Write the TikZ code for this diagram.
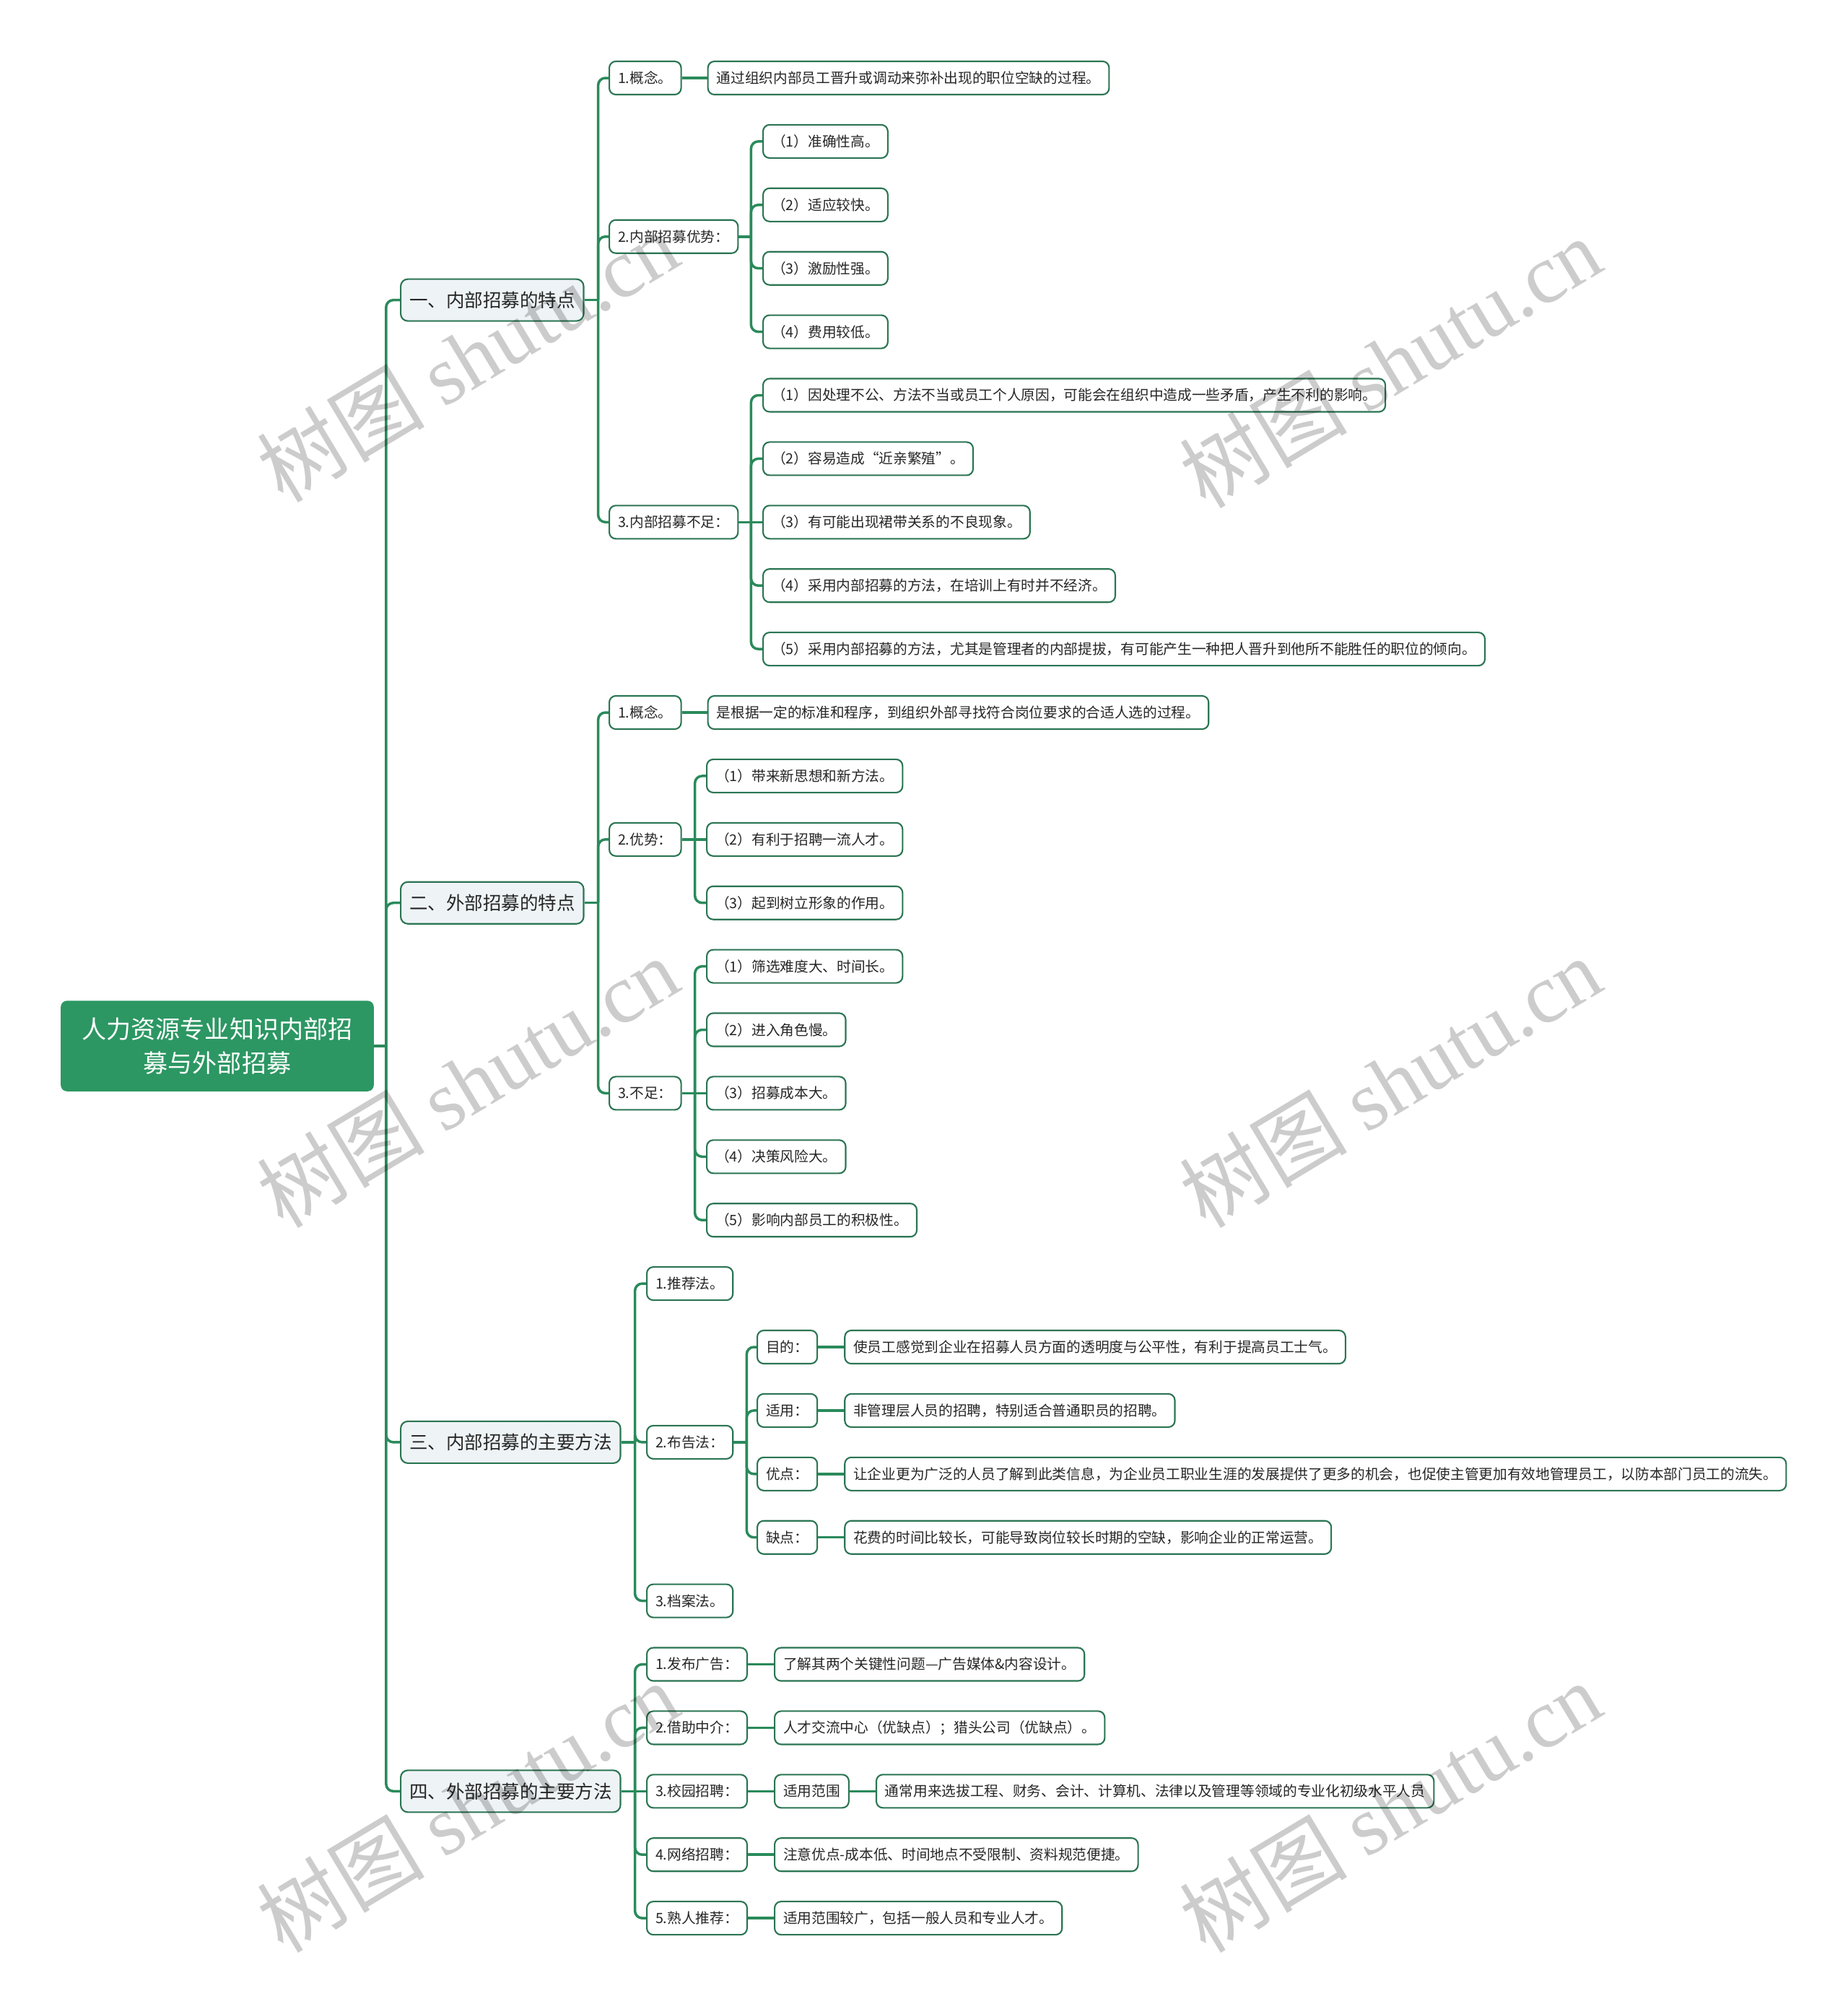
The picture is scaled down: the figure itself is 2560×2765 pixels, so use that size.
\documentclass[tikz,border=0pt]{standalone}
\usepackage{fontspec}
\setmainfont{Noto Sans CJK SC}
\newfontfamily\wmserif{Liberation Serif}
\usetikzlibrary{positioning,calc}
\definecolor{ink}{HTML}{262626}
\definecolor{rootgreen}{HTML}{2C9763}
\definecolor{linegreen}{HTML}{2A8A5B}
\definecolor{edgegreen}{HTML}{2B7553}
\definecolor{topicfill}{HTML}{EEF3F6}
\tikzset{
  rootbox/.style={fill=rootgreen, draw=rootgreen, rounded corners=0.08cm, text=white, align=center, minimum width=4.32cm, minimum height=1.24cm, font=\fontsize{9.7pt}{13.1pt}\selectfont},
  topicbox/.style={draw=edgegreen, fill=topicfill, line width=0.6pt, rounded corners=0.1cm, text=ink, anchor=west, inner xsep=0.12cm, inner ysep=0pt, minimum height=0.58cm, font=\fontsize{7.25pt}{8pt}\selectfont},
  itembox/.style={draw=edgegreen, fill=white, line width=0.6pt, rounded corners=0.09cm, text=ink, anchor=west, inner xsep=0.12cm, inner ysep=0pt, minimum height=0.46cm, font=\fontsize{5.6pt}{6.5pt}\selectfont},
  link/.style={draw=linegreen, line width=1pt},
  branch/.style={link, rounded corners=0.1cm},
  wmark/.style={text=black, text opacity=0.2, rotate=31, font=\fontsize{33pt}{33pt}\selectfont},
}

\begin{document}
\begin{tikzpicture}[x=0.01cm, y=-0.01cm, declare function={row(\k)=108+87.9*\k;}]
\useasboundingbox (0,0) rectangle (2560,2765);
\node[rootbox] (root) at (301,1449) {人力资源专业知识内部招\\募与外部招募};
\node[topicbox] (t1) at (554,{row(3.5)}) {一、内部招募的特点};
\node[topicbox] (t2) at (554,{row(13)}) {二、外部招募的特点};
\node[topicbox] (t3) at (554,{row(21.5)}) {三、内部招募的主要方法};
\node[topicbox] (t4) at (554,{row(27)}) {四、外部招募的主要方法};
\coordinate (jroot) at ([xshift=0.17cm]root.east);
\draw[link] (root.east) -- (jroot);
\foreach \n in {t1,t2,t3,t4} \draw[branch] (jroot) |- (\n.west);

% internal features
\node[itembox] (a1) at (843,{row(0)}) {1.概念。};
\node[itembox, right=0.35cm of a1] (a1t) {通过组织内部员工晋升或调动来弥补出现的职位空缺的过程。};
\node[itembox] (a2) at (843,{row(2.5)}) {2.内部招募优势：};
\node[itembox] (a3) at (843,{row(7)}) {3.内部招募不足：};
\node[itembox] (a21) at (1056,{row(1)}) {（1）准确性高。};
\node[itembox] (a22) at (1056,{row(2)}) {（2）适应较快。};
\node[itembox] (a23) at (1056,{row(3)}) {（3）激励性强。};
\node[itembox] (a24) at (1056,{row(4)}) {（4）费用较低。};
\node[itembox] (a31) at (1056,{row(5)}) {（1）因处理不公、方法不当或员工个人原因，可能会在组织中造成一些矛盾，产生不利的影响。};
\node[itembox] (a32) at (1056,{row(6)}) {（2）容易造成“近亲繁殖”。};
\node[itembox] (a33) at (1056,{row(7)}) {（3）有可能出现裙带关系的不良现象。};
\node[itembox] (a34) at (1056,{row(8)}) {（4）采用内部招募的方法，在培训上有时并不经济。};
\node[itembox] (a35) at (1056,{row(9)}) {（5）采用内部招募的方法，尤其是管理者的内部提拔，有可能产生一种把人晋升到他所不能胜任的职位的倾向。};
\coordinate (jt1) at ([xshift=0.19cm]t1.east);
\coordinate (ja2) at ([xshift=0.17cm]a2.east);
\coordinate (ja3) at ([xshift=0.17cm]a3.east);
\draw[link] (t1.east) -- (jt1); \draw[link] (a2.east) -- (ja2); \draw[link] (a3.east) -- (ja3);
\foreach \n in {a1,a2,a3} \draw[branch] (jt1) |- (\n.west);
\foreach \n in {a21,a22,a23,a24} \draw[branch] (ja2) |- (\n.west);
\foreach \n in {a31,a32,a34,a35} \draw[branch] (ja3) |- (\n.west);
\draw[link] (ja3) -- (a33.west); \draw[link] (a1) -- (a1t);

% external features
\node[itembox] (b1) at (843,{row(10)}) {1.概念。};
\node[itembox, right=0.35cm of b1] (b1t) {是根据一定的标准和程序，到组织外部寻找符合岗位要求的合适人选的过程。};
\node[itembox] (b2) at (843,{row(12)}) {2.优势：};
\node[itembox] (b3) at (843,{row(16)}) {3.不足：};
\node[itembox] (b21) at (978,{row(11)}) {（1）带来新思想和新方法。};
\node[itembox] (b22) at (978,{row(12)}) {（2）有利于招聘一流人才。};
\node[itembox] (b23) at (978,{row(13)}) {（3）起到树立形象的作用。};
\node[itembox] (b31) at (978,{row(14)}) {（1）筛选难度大、时间长。};
\node[itembox] (b32) at (978,{row(15)}) {（2）进入角色慢。};
\node[itembox] (b33) at (978,{row(16)}) {（3）招募成本大。};
\node[itembox] (b34) at (978,{row(17)}) {（4）决策风险大。};
\node[itembox] (b35) at (978,{row(18)}) {（5）影响内部员工的积极性。};
\coordinate (jt2) at ([xshift=0.19cm]t2.east);
\coordinate (jb2) at ([xshift=0.18cm]b2.east);
\coordinate (jb3) at ([xshift=0.18cm]b3.east);
\draw[link] (t2.east) -- (jt2); \draw[link] (b2.east) -- (jb2); \draw[link] (b3.east) -- (jb3);
\foreach \n in {b1,b2,b3} \draw[branch] (jt2) |- (\n.west);
\foreach \n in {b21,b23} \draw[branch] (jb2) |- (\n.west);
\foreach \n in {b31,b32,b34,b35} \draw[branch] (jb3) |- (\n.west);
\draw[link] (jb2) -- (b22.west); \draw[link] (jb3) -- (b33.west); \draw[link] (b1) -- (b1t);

% internal methods
\node[itembox] (c1) at (895,{row(19)}) {1.推荐法。};
\node[itembox] (c2) at (895,{row(21.5)}) {2.布告法：};
\node[itembox] (c3) at (895,{row(24)}) {3.档案法。};
\node[itembox] (c21) at (1048,{row(20)}) {目的：};
\node[itembox] (c22) at (1048,{row(21)}) {适用：};
\node[itembox] (c23) at (1048,{row(22)}) {优点：};
\node[itembox] (c24) at (1048,{row(23)}) {缺点：};
\node[itembox, right=0.36cm of c21] (c21t) {使员工感觉到企业在招募人员方面的透明度与公平性，有利于提高员工士气。};
\node[itembox, right=0.36cm of c22] (c22t) {非管理层人员的招聘，特别适合普通职员的招聘。};
\node[itembox, right=0.36cm of c23] (c23t) {让企业更为广泛的人员了解到此类信息，为企业员工职业生涯的发展提供了更多的机会，也促使主管更加有效地管理员工，以防本部门员工的流失。};
\node[itembox, right=0.36cm of c24] (c24t) {花费的时间比较长，可能导致岗位较长时期的空缺，影响企业的正常运营。};
\coordinate (jt3) at ([xshift=0.19cm]t3.east);
\coordinate (jc2) at ([xshift=0.18cm]c2.east);
\draw[link] (t3.east) -- (jt3); \draw[link] (c2.east) -- (jc2);
\foreach \n in {c1,c2,c3} \draw[branch] (jt3) |- (\n.west);
\foreach \n in {c21,c22,c23,c24} {\draw[branch] (jc2) |- (\n.west); \draw[link] (\n) -- (\n t);}

% external methods
\node[itembox] (d1) at (895,{row(25)}) {1.发布广告：};
\node[itembox] (d2) at (895,{row(26)}) {2.借助中介：};
\node[itembox] (d3) at (895,{row(27)}) {3.校园招聘：};
\node[itembox] (d4) at (895,{row(28)}) {4.网络招聘：};
\node[itembox] (d5) at (895,{row(29)}) {5.熟人推荐：};
\node[itembox, right=0.36cm of d1] (d1t) {了解其两个关键性问题—广告媒体\&内容设计。};
\node[itembox, right=0.36cm of d2] (d2t) {人才交流中心（优缺点）；猎头公司（优缺点）。};
\node[itembox, right=0.36cm of d3] (d3t) {适用范围};
\node[itembox, right=0.36cm of d3t] (d3u) {通常用来选拔工程、财务、会计、计算机、法律以及管理等领域的专业化初级水平人员};
\node[itembox, right=0.36cm of d4] (d4t) {注意优点-成本低、时间地点不受限制、资料规范便捷。};
\node[itembox, right=0.36cm of d5] (d5t) {适用范围较广，包括一般人员和专业人才。};
\coordinate (jt4) at ([xshift=0.19cm]t4.east);
\draw[link] (t4.east) -- (jt4);
\foreach \n in {d1,d2,d4,d5} \draw[branch] (jt4) |- (\n.west);
\draw[link] (jt4) -- (d3.west);
\foreach \n in {d1,d2,d3,d4,d5} \draw[link] (\n) -- (\n t);
\draw[link] (d3t) -- (d3u);

% watermark
\foreach \wx/\wy in {648/494,1926/502,648/1499,1926/1499,648/2503,1926/2503}
  \node[wmark] at (\wx,\wy) {树图 {\wmserif shutu.cn}};
\end{tikzpicture}
\end{document}
